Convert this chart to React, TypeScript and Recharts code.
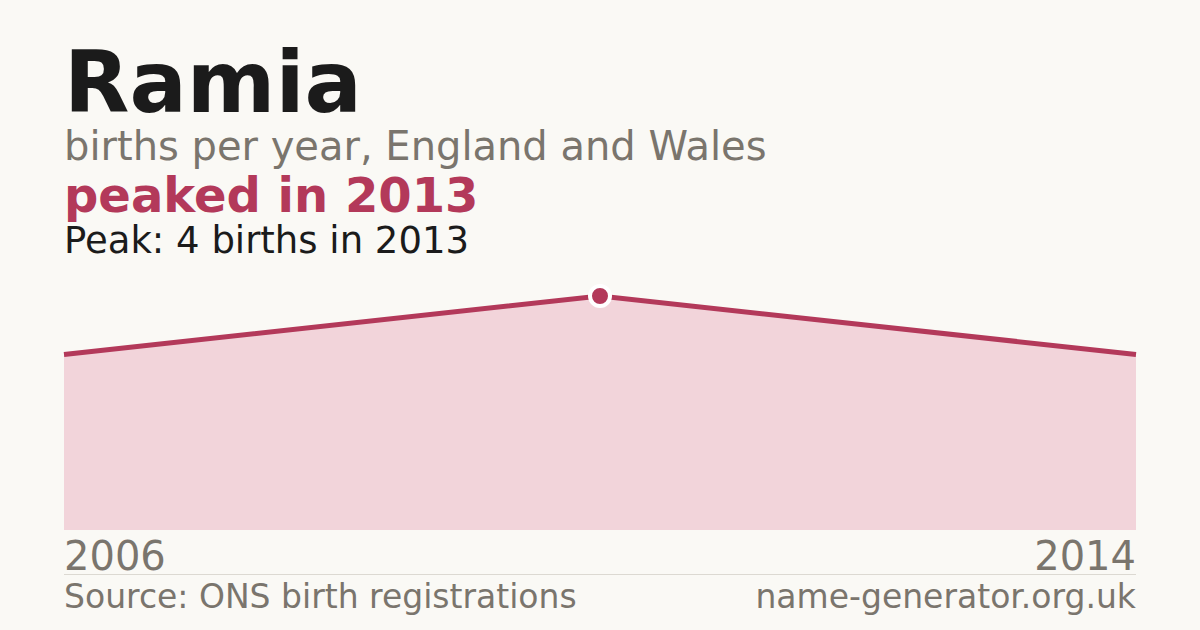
import React from "react";
import { ComposedChart, Area, XAxis, YAxis } from "recharts";

if (typeof document !== "undefined") document.body.style.margin = "0";

const years = ["2006", "2013", "2014"];
const births = [3, 4, 3];
const axisTicks = ["2006", "2014"];

const data = years.map((year, i) => ({ year, births: births[i] }));
const peakIndex = births.indexOf(Math.max(...births));

const RED = "#b3395a";
const GREY = "#7a756d";
const FONT = "'DejaVu Sans', sans-serif";

const YearTick = ({ x, y, payload }: any) => {
  const first = payload.value === axisTicks[0];
  return (
    <text
      x={x}
      y={y}
      dy={40}
      textAnchor={first ? "start" : "end"}
      fontSize={40}
      fontFamily={FONT}
      fill={GREY}
    >
      {payload.value}
    </text>
  );
};

const PeakDot = ({ cx, cy, index }: any) => {
  if (index !== peakIndex) return <g key={index} />;
  return <circle key={index} cx={cx} cy={cy} r={10} fill={RED} stroke="#ffffff" strokeWidth={4} />;
};

export default function App() {
  return (
    <div
      style={{
        position: "relative",
        width: 1200,
        height: 630,
        background: "#faf9f5",
        fontFamily: FONT,
        overflow: "hidden",
      }}
    >
      <div style={{ position: "absolute", left: 64, top: 40, fontSize: 85, fontWeight: 700, color: "#1b1b1b", lineHeight: "86px" }}>
        Ramia
      </div>
      <div style={{ position: "absolute", left: 64, top: 126, fontSize: 40, color: GREY, lineHeight: "40px" }}>
        births per year, England and Wales
      </div>
      <div style={{ position: "absolute", left: 64, top: 171, fontSize: 48, fontWeight: 700, color: RED, lineHeight: "48px" }}>
        peaked in 2013
      </div>
      <div style={{ position: "absolute", left: 64, top: 222, fontSize: 37, color: "#1b1b1b", lineHeight: "38px" }}>
        Peak: 4 births in 2013
      </div>

      <div style={{ position: "absolute", left: 0, top: 0 }}>
        <ComposedChart
          width={1200}
          height={630}
          data={data}
          margin={{ top: 296, right: 64, bottom: 60, left: 64 }}
        >
          <YAxis hide domain={[0, 4]} />
          <XAxis
            dataKey="year"
            ticks={axisTicks}
            interval={0}
            axisLine={false}
            tickLine={false}
            tickSize={0}
            tickMargin={0}
            height={40}
            tick={<YearTick />}
          />
          <Area
            type="linear"
            dataKey="births"
            fill="#f2d4da"
            fillOpacity={1}
            stroke={RED}
            strokeWidth={5}
            dot={<PeakDot />}
            activeDot={false}
            isAnimationActive={false}
          />
        </ComposedChart>
      </div>

      <div style={{ position: "absolute", left: 64, top: 574, width: 1072, height: 1, background: "#dcd9d2" }} />
      <div style={{ position: "absolute", left: 64, top: 577, fontSize: 33, color: GREY, lineHeight: "40px" }}>
        Source: ONS birth registrations
      </div>
      <div style={{ position: "absolute", right: 64, top: 577, fontSize: 33, color: GREY, lineHeight: "40px" }}>
        name-generator.org.uk
      </div>
    </div>
  );
}
